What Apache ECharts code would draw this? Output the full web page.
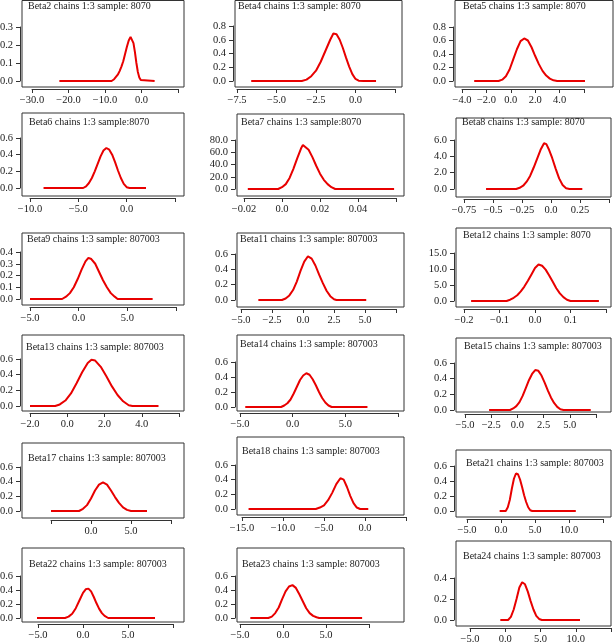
<!DOCTYPE html>
<html><head><meta charset="utf-8">
<script src="https://cdn.jsdelivr.net/npm/echarts@6/dist/echarts.min.js"></script>
<style>html,body{margin:0;padding:0;background:#fff}#c{width:614px;height:642px}</style>
</head><body><div id="c"></div>
<script>
const M = '\u2212';
// ---- titles ----
const panelTitles = [
  'Beta2 chains 1:3 sample: 8070', 'Beta4 chains 1:3 sample: 8070', 'Beta5 chains 1:3 sample: 8070',
  'Beta6 chains 1:3 sample:8070', 'Beta7 chains 1:3 sample:8070', 'Beta8 chains 1:3 sample: 8070',
  'Beta9 chains 1:3 sample: 807003', 'Beta11 chains 1:3 sample: 807003', 'Beta12 chains 1:3 sample: 8070',
  'Beta13 chains 1:3 sample: 807003', 'Beta14 chains 1:3 sample: 807003', 'Beta15 chains 1:3 sample: 807003',
  'Beta17 chains 1:3 sample: 807003', 'Beta18 chains 1:3 sample: 807003', 'Beta21 chains 1:3 sample: 807003',
  'Beta22 chains 1:3 sample: 807003', 'Beta23 chains 1:3 sample: 807003', 'Beta24 chains 1:3 sample: 807003'
];
// ---- x tick values and labels ----
const xTickValues = [
  [-30,-20,-10,0,10], [-7.5,-5,-2.5,0,2.5], [-4,-2,0,2,4,6],
  [-10,-5,0,5], [-0.02,0,0.02,0.04,0.06], [-0.75,-0.5,-0.25,0,0.25,0.5],
  [-5,0,5,10], [-5,-2.5,0,2.5,5,7.5], [-0.2,-0.1,0,0.1,0.2],
  [-2,0,2,4,6], [-5,0,5,10], [-5,-2.5,0,2.5,5,7.5],
  [-5,0,5,10], [-15,-10,-5,0,5], [-5,0,5,10,15],
  [-5,0,5,10], [-5,0,5,10], [-5,0,5,10,15]
];
const xTickLabels = [
  [M+'30.0',M+'20.0',M+'10.0','0.0',''], [M+'7.5',M+'5.0',M+'2.5','0.0',''], [M+'4.0',M+'2.0','0.0','2.0','4.0',''],
  [M+'10.0',M+'5.0','0.0',''], [M+'0.02','0.0','0.02','0.04',''], [M+'0.75',M+'0.5',M+'0.25','0.0','0.25',''],
  [M+'5.0','0.0','5.0',''], [M+'5.0',M+'2.5','0.0','2.5','5.0',''], [M+'0.2',M+'0.1','0.0','0.1',''],
  [M+'2.0','0.0','2.0','4.0',''], [M+'5.0','0.0','5.0',''], [M+'5.0',M+'2.5','0.0','2.5','5.0',''],
  ['','0.0','5.0',''], [M+'15.0',M+'10.0',M+'5.0','0.0',''], [M+'5.0','0.0','5.0','10.0',''],
  [M+'5.0','0.0','5.0',''], [M+'5.0','0.0','5.0',''], [M+'5.0','0.0','5.0','10.0','']
];
// ---- y tick values ----
const yTickValues = [
  [0,0.1,0.2,0.3], [0,0.2,0.4,0.6,0.8], [0,0.2,0.4,0.6,0.8],
  [0,0.2,0.4,0.6], [0,20,40,60,80], [0,2,4,6],
  [0,0.1,0.2,0.3,0.4], [0,0.2,0.4,0.6], [0,5,10,15],
  [0,0.2,0.4,0.6], [0,0.2,0.4,0.6], [0,0.2,0.4,0.6],
  [0,0.2,0.4,0.6], [0,0.2,0.4,0.6], [0,0.2,0.4,0.6],
  [0,0.2,0.4,0.6], [0,0.2,0.4,0.6], [0,0.1,0.2,0.3,0.4]
];
// ---- density curves [x, density] ----
const beta2 = [[-22.5,0],[-8.2,0],[-7.5,0.01],[-7,0.02],[-6.5,0.035],[-6,0.055],[-5.5,0.08],[-5,0.11],[-4.5,0.15],[-4,0.19],[-3.5,0.225],[-3,0.245],[-2.6,0.24],[-2.2,0.21],[-1.8,0.16],[-1.4,0.1],[-1,0.05],[-0.6,0.02],[-0.2,0.005],[0.3,0],[3.6,0]];
const beta4 = [[-6.6,0],[-3.4,0],[-3.1,0.02],[-2.8,0.07],[-2.5,0.15],[-2.2,0.28],[-1.9,0.44],[-1.6,0.6],[-1.4,0.69],[-1.2,0.68],[-1,0.6],[-0.8,0.48],[-0.6,0.34],[-0.4,0.21],[-0.2,0.1],[0,0.03],[0.2,0.005],[0.5,0],[1.3,0]];
const beta5 = [[-3,0],[-1,0],[-0.7,0.02],[-0.4,0.07],[-0.1,0.17],[0.2,0.32],[0.5,0.47],[0.8,0.59],[1.1,0.63],[1.4,0.6],[1.7,0.5],[2,0.37],[2.3,0.25],[2.6,0.15],[2.9,0.08],[3.2,0.035],[3.5,0.01],[3.8,0],[6.1,0]];
const beta6 = [[-8.6,0],[-4.5,0],[-4.2,0.02],[-3.9,0.06],[-3.6,0.12],[-3.3,0.2],[-3,0.29],[-2.7,0.38],[-2.4,0.45],[-2.1,0.48],[-1.8,0.46],[-1.5,0.4],[-1.2,0.31],[-0.9,0.21],[-0.6,0.12],[-0.3,0.05],[0,0.01],[0.3,0],[2,0]];
const beta7 = [[-0.018,0],[-0.002,0],[0,3],[0.002,8],[0.004,18],[0.006,33],[0.008,50],[0.01,66],[0.011,72],[0.012,72],[0.014,64],[0.016,52],[0.018,38],[0.02,25],[0.022,15],[0.024,8],[0.026,3],[0.028,0],[0.059,0]];
const beta8 = [[-0.56,0],[-0.3,0],[-0.27,0.15],[-0.24,0.4],[-0.21,0.9],[-0.18,1.6],[-0.15,2.6],[-0.12,3.7],[-0.09,4.8],[-0.06,5.6],[-0.04,5.5],[-0.02,4.9],[0.01,3.8],[0.04,2.5],[0.07,1.3],[0.1,0.5],[0.13,0.1],[0.16,0],[0.27,0]];
const beta9 = [[-5,0],[-1.7,0],[-1.3,0.02],[-0.9,0.05],[-0.5,0.1],[-0.1,0.17],[0.3,0.25],[0.7,0.32],[1,0.35],[1.3,0.34],[1.7,0.3],[2.1,0.23],[2.5,0.16],[2.9,0.1],[3.3,0.05],[3.7,0.02],[4,0],[7.6,0]];
const beta11 = [[-3.6,0],[-1.7,0],[-1.4,0.02],[-1.1,0.06],[-0.8,0.13],[-0.5,0.24],[-0.2,0.38],[0.1,0.5],[0.4,0.57],[0.7,0.54],[1,0.45],[1.3,0.33],[1.6,0.22],[1.9,0.12],[2.2,0.05],[2.5,0.01],[2.7,0],[5.1,0]];
const beta12 = [[-0.18,0],[-0.08,0],[-0.07,0.4],[-0.06,1],[-0.05,1.8],[-0.04,3],[-0.03,4.5],[-0.02,6.3],[-0.01,8.3],[0,10.3],[0.01,11.4],[0.02,11],[0.03,9.8],[0.04,8],[0.05,6],[0.06,4],[0.07,2.4],[0.08,1.2],[0.09,0.4],[0.1,0],[0.18,0]];
const beta13 = [[-2,0],[-0.65,0],[-0.4,0.02],[-0.1,0.07],[0.2,0.16],[0.5,0.29],[0.8,0.43],[1.1,0.55],[1.3,0.59],[1.5,0.58],[1.8,0.5],[2.1,0.38],[2.4,0.25],[2.7,0.14],[3,0.06],[3.3,0.01],[3.5,0],[4.9,0]];
const beta14 = [[-4.5,0],[-1.1,0],[-0.8,0.02],[-0.5,0.05],[-0.2,0.1],[0.1,0.18],[0.4,0.27],[0.7,0.36],[1,0.42],[1.3,0.45],[1.6,0.43],[1.9,0.37],[2.2,0.29],[2.5,0.2],[2.8,0.12],[3.1,0.06],[3.4,0.02],[3.7,0],[7.1,0]];
const beta15 = [[-2.7,0],[-0.7,0],[-0.4,0.02],[-0.1,0.05],[0.2,0.1],[0.5,0.18],[0.8,0.28],[1.1,0.38],[1.4,0.46],[1.7,0.51],[2,0.5],[2.3,0.44],[2.6,0.35],[2.9,0.25],[3.2,0.16],[3.5,0.09],[3.8,0.04],[4.1,0.01],[4.4,0],[7,0]];
const beta17 = [[-5,0],[-1.5,0],[-1,0.03],[-0.5,0.08],[0,0.17],[0.5,0.28],[1,0.36],[1.5,0.39],[2,0.36],[2.5,0.28],[3,0.19],[3.5,0.11],[4,0.05],[4.5,0.015],[5,0],[7,0]];
const beta18 = [[-14.2,0],[-6,0],[-5.5,0.02],[-5,0.05],[-4.5,0.12],[-4,0.22],[-3.5,0.34],[-3,0.42],[-2.6,0.4],[-2.2,0.3],[-1.8,0.18],[-1.4,0.08],[-1,0.02],[-0.6,0],[0.4,0]];
const beta21 = [[-0.2,0],[0.7,0],[1,0.05],[1.3,0.15],[1.6,0.3],[1.9,0.43],[2.2,0.5],[2.5,0.49],[2.8,0.42],[3.1,0.32],[3.4,0.21],[3.7,0.12],[4,0.05],[4.3,0.01],[4.6,0],[11,0]];
const beta22 = [[-5.5,0],[-2,0],[-1.6,0.02],[-1.2,0.06],[-0.8,0.14],[-0.4,0.25],[0,0.36],[0.3,0.41],[0.6,0.42],[0.9,0.38],[1.2,0.3],[1.5,0.21],[1.8,0.13],[2.1,0.07],[2.4,0.03],[2.8,0],[8,0]];
const beta23 = [[-3.8,0],[-1.7,0],[-1.3,0.02],[-0.9,0.07],[-0.5,0.15],[-0.1,0.27],[0.3,0.38],[0.7,0.45],[1.1,0.47],[1.5,0.43],[1.9,0.34],[2.3,0.24],[2.7,0.14],[3.1,0.07],[3.5,0.03],[3.9,0.01],[4.2,0],[9.2,0]];
const beta24 = [[-0.7,0],[0.4,0],[0.8,0.03],[1.2,0.1],[1.6,0.2],[2,0.31],[2.4,0.36],[2.8,0.34],[3.2,0.27],[3.6,0.18],[4,0.1],[4.4,0.04],[4.8,0.01],[5.2,0],[10.6,0]];
const curves = [beta2,beta4,beta5,beta6,beta7,beta8,beta9,beta11,beta12,beta13,beta14,beta15,beta17,beta18,beta21,beta22,beta23,beta24];

// ---- layout (pixels): box [l,t,r,b], plot [x0,x1,yTop,yZero], title [x, yCenter] ----
const layout = [
  {box:[22,0.5,184,87], plot:[32,178,27,81], title:[28,7]},
  {box:[235,0.5,402,87], plot:[237,395,26,81], title:[238,7]},
  {box:[455,0.5,613,87], plot:[462,584,27,81], title:[463,7]},
  {box:[22,113,184,196], plot:[30,175,138,188], title:[29,123]},
  {box:[237,114,404,196], plot:[244,396,140,189], title:[241,123]},
  {box:[456,118,611,197], plot:[464,609,140,189], title:[462,123]},
  {box:[22,233,184,305], plot:[30,176,252,299], title:[27,240]},
  {box:[237,233,404,307], plot:[241,396,254,300], title:[240,240]},
  {box:[456,228,611,307], plot:[464,606,253,301], title:[463,236]},
  {box:[22,335,184,411], plot:[30,179,359,406], title:[26,348]},
  {box:[237,335,404,411], plot:[240,398,362,407], title:[240,345]},
  {box:[456,338,611,412], plot:[465,596,363,410], title:[464,347]},
  {box:[22,443,184,518], plot:[51,171,467,511], title:[28,459]},
  {box:[237,437,404,515], plot:[242,406,465,509], title:[242,452]},
  {box:[456,450,611,517], plot:[467,603,466,511], title:[466,464]},
  {box:[22,548,184,622], plot:[38,173,576,618], title:[29,565]},
  {box:[237,548,404,622], plot:[240,369,576,618], title:[242,565]},
  {box:[456,541,611,626], plot:[470,611,578,620], title:[463,557]}
];

const FONT = "'Liberation Serif','DejaVu Serif',serif";
const TXT = '#1a1a1a';
const option = {animation:false, backgroundColor:'#fff', title:[], grid:[], xAxis:[], yAxis:[], series:[], graphic:[]};

curves.forEach((data, i) => {
  const L = layout[i];
  const [bl,bt,br,bb] = L.box;
  const [x0,x1,yT,y0] = L.plot;
  const xt = xTickValues[i], yt = yTickValues[i], xl = xTickLabels[i];
  option.graphic.push({type:'rect', silent:true, z:0,
    shape:{x:bl, y:bt, width:br-bl, height:bb-bt},
    style:{fill:'none', stroke:'#333', lineWidth:1}});
  option.title.push({text:panelTitles[i], left:L.title[0], top:L.title[1]-6, padding:0,
    textStyle:{fontFamily:FONT, fontSize:10, fontWeight:'normal', color:TXT}});
  option.grid.push({left:x0, top:yT, width:x1-x0, height:y0-yT, containLabel:false, outerBoundsMode:'none'});
  const xs = xt[1]-xt[0];
  option.xAxis.push({type:'value', gridIndex:i, min:xt[0], max:xt[xt.length-1], interval:xs,
    offset:(bb+2)-y0,
    axisLine:{show:true, onZero:false, lineStyle:{color:'#333', width:1}},
    axisTick:{show:true, length:4, lineStyle:{color:'#333'}},
    splitLine:{show:false},
    axisLabel:{margin:6, fontFamily:FONT, fontSize:10.5, color:TXT, showMinLabel:true, showMaxLabel:true,
      formatter:v => { const k = Math.round((v-xt[0])/xs); return xl[k] || ''; }}});
  option.yAxis.push({type:'value', gridIndex:i, min:yt[0], max:yt[yt.length-1], interval:yt[1]-yt[0],
    offset:x0-(bl-2),
    axisLine:{show:true, onZero:false, lineStyle:{color:'#333', width:1}},
    axisTick:{show:true, length:4, lineStyle:{color:'#333'}},
    splitLine:{show:false},
    axisLabel:{margin:7, fontFamily:FONT, fontSize:10.5, color:TXT, showMinLabel:true, showMaxLabel:true,
      formatter:v => v.toFixed(1)}});
  option.series.push({type:'line', xAxisIndex:i, yAxisIndex:i, data:data, showSymbol:false, clip:false,
    lineStyle:{color:'#e80000', width:2}, z:3});
});

const chart = echarts.init(document.getElementById('c'), null, {renderer:'canvas'});
chart.setOption(option);
</script>
</body></html>
